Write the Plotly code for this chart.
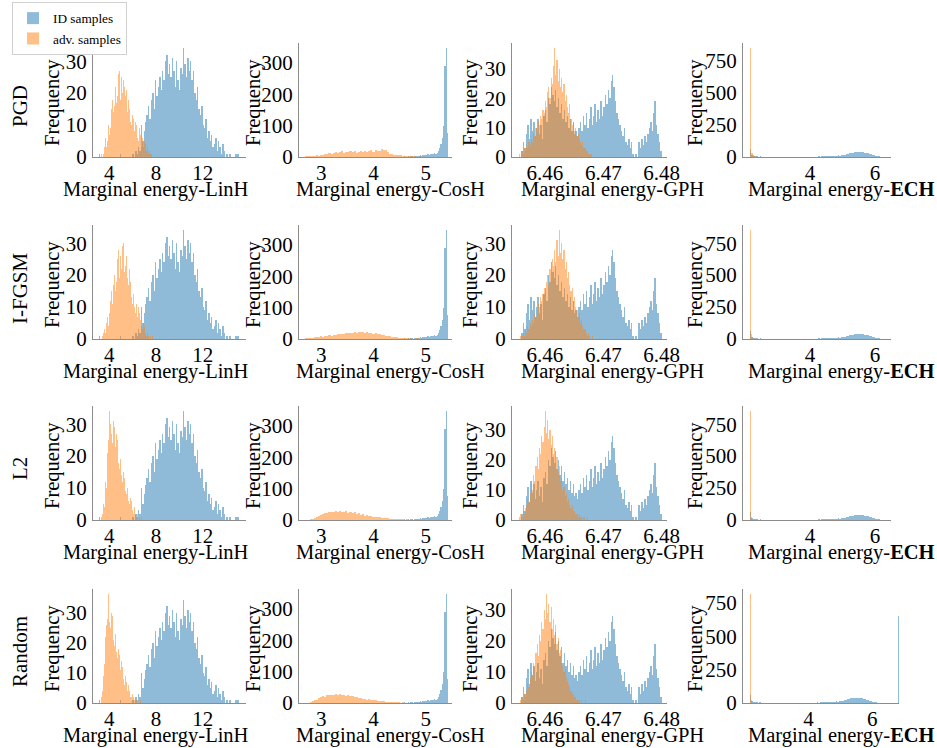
import plotly.graph_objects as go

W, H = 937, 748
FONT = "Liberation Serif, Times New Roman, serif"

attacks = ["PGD", "I-FGSM", "L2", "Random"]
metrics = ["LinH", "CosH", "GPH", "ECH"]

# ---------------- ID samples (identical in every attack row): start, bin width, counts
linh_id_start, linh_id_width = 3.1, 0.12
linh_id_counts = [1, 0, 0, 0, 0, 0, 0, 0, 0, 0,
                  0, 0, 0, 0, 0, 1, 0, 0, 0, 0,
                  0, 0, 0, 0, 1, 0, 2, 1, 3, 2,
                  10, 5, 8, 11, 13, 16, 12, 18, 20, 15,
                  24, 19, 22, 25, 21, 27, 24, 30, 32, 26,
                  29, 25, 31, 27, 22, 30, 24, 21, 28, 26,
                  34, 29, 25, 31, 27, 30, 24, 27, 20, 18,
                  22, 15, 13, 16, 10, 9, 12, 6, 8, 5,
                  7, 3, 4, 6, 2, 5, 3, 1, 4, 2,
                  0, 1, 0, 1, 0, 0, 0, 1, 1, 1]

cosh_id_start, cosh_id_width = 4.43, 0.025
cosh_id_counts = [0, 1, 0, 1, 1, 0, 2, 1, 1, 2, 1, 3, 2, 1, 3, 2,
                  4, 3, 5, 4, 6, 5, 7, 6,
                  8, 7, 9, 10, 8, 12, 11, 14,
                  20, 28, 40, 60,
                  100, 290, 346, 75]

gph_id_start, gph_id_width = 6.456, 0.00025
gph_id_counts = [2, 5, 3, 8, 11, 6, 13, 9, 12, 7, 10, 13, 8, 11, 6, 14,
                 16, 12, 20, 18, 24, 21, 19, 23, 17, 20, 15, 18, 13, 16, 12, 14,
                 10, 13, 9, 12, 8, 9, 7, 10, 12, 9, 14, 11, 15, 10, 13, 17,
                 11, 14, 18, 12, 16, 13, 19, 14, 17, 21, 18, 23, 20, 26, 28, 24,
                 19, 15, 13, 11, 9, 7, 10, 5, 4, 6, 3, 5, 1, 0, 1, 0,
                 5, 3, 6, 4, 7, 5, 8, 10, 12, 9, 15, 19, 11, 8, 5, 2]

ech_id_start, ech_id_width = 2.15, 0.05
ech_id_counts = [60, 15, 8, 5, 4, 3, 4,
                 3, 2, 3, 2, 2, 3, 2, 2, 1, 2,
                 2, 1, 2, 1, 2, 1, 1, 2, 1, 1,
                 1, 2, 1, 1, 2, 1, 2, 2, 1, 2,
                 2, 3, 2, 3, 3, 4, 3, 4, 5, 4,
                 6, 5, 7, 8, 7, 9, 10, 12, 11, 14,
                 16, 18, 22, 25, 28, 31, 34, 36, 38, 40,
                 41, 38, 39, 35, 33, 28, 25, 20, 16, 12,
                 9, 6, 4, 3, 2, 1, 1]

# ---------------- adversarial samples, one histogram per attack
linh_adv_starts = [3.3, 3.4, 3.3, 3.3]
linh_adv_width = 0.06
linh_adv_pgd = [1, 0, 2, 1, 3, 4, 6, 3, 8, 5, 10, 7, 13, 9, 15, 12, 18, 14, 20, 16,
                22, 17, 24, 19, 26, 21, 27, 18, 25, 23, 20, 24, 17, 22, 19, 16, 21, 14, 18, 13,
                15, 11, 16, 10, 13, 9, 12, 8, 11, 7, 10, 6, 8, 5, 9, 4, 7, 3, 6, 4,
                3, 5, 2, 4, 2, 1, 3, 1, 2, 0, 1, 1]
linh_adv_ifgsm = [1, 2, 1, 3, 2, 5, 3, 7, 4, 9, 8, 12, 10, 15, 11, 17, 13, 20, 15, 22,
                  18, 25, 21, 28, 19, 26, 32, 22, 29, 24, 30, 21, 27, 23, 26, 19, 24, 17, 22, 15,
                  18, 13, 16, 11, 14, 10, 13, 8, 11, 9, 7, 10, 5, 8, 6, 4, 7, 3, 5, 3,
                  4, 2, 3, 1, 2, 1, 2, 0, 1, 1, 0, 1]
linh_adv_l2 = [1, 2, 3, 5, 4, 8, 12, 10, 17, 21, 25, 34, 22, 30, 27, 34, 24, 31, 26, 29,
               23, 27, 20, 25, 18, 21, 16, 19, 14, 17, 12, 15, 10, 13, 9, 11, 8, 10, 6, 9,
               5, 7, 4, 6, 3, 5, 2, 4, 2, 3, 1, 2, 1, 0, 1, 1, 0, 1, 0, 0]
linh_adv_random = [2, 4, 6, 9, 13, 17, 22, 26, 32, 28, 36, 27, 33, 25, 30, 24, 29, 21, 26, 19,
                   23, 17, 20, 15, 18, 13, 16, 11, 14, 9, 12, 8, 10, 6, 9, 5, 7, 4, 6, 3,
                   4, 2, 3, 2, 3, 1, 2, 1, 1, 0, 1, 0, 1, 0, 0, 0, 1, 0, 0, 0]

cosh_adv_starts = [2.70, 2.70, 2.78, 2.78]
cosh_adv_width = 0.04
cosh_adv_pgd = [2, 3, 2, 4, 3, 5, 4, 6, 5, 8, 9, 12, 10, 14, 16, 13, 15, 18, 14, 17,
                16, 19, 15, 18, 14, 17, 20, 16, 19, 17, 18, 21, 17, 22, 19, 20, 24, 21, 23, 15,
                10, 8, 7, 6, 5, 5, 4, 3, 4, 3, 2, 3, 2, 1, 2, 1, 1]
cosh_adv_ifgsm = [2, 3, 4, 3, 5, 6, 5, 8, 7, 9, 10, 12, 11, 14, 13, 16, 15, 17, 16, 19,
                  18, 20, 19, 22, 20, 23, 21, 22, 20, 21, 19, 20, 17, 18, 15, 16, 13, 12, 10, 9,
                  8, 6, 5, 5, 4, 3, 3, 2, 3, 2, 2, 1, 1, 2, 1, 1, 0]
cosh_adv_l2 = [2, 4, 6, 9, 13, 16, 19, 22, 21, 25, 27, 24, 29, 26, 30, 27, 25, 28, 23, 26,
               22, 24, 19, 21, 17, 18, 14, 15, 12, 13, 10, 11, 8, 9, 6, 7, 5, 6, 4, 4,
               3, 3, 2, 2, 2, 1, 2, 1, 1, 1]
cosh_adv_random = [3, 5, 8, 11, 15, 18, 22, 20, 25, 24, 27, 25, 29, 26, 28, 24, 26, 23, 25, 21,
                   22, 18, 20, 16, 17, 13, 14, 11, 12, 10, 9, 8, 7, 6, 6, 5, 4, 4, 3, 3,
                   3, 2, 2, 1, 2, 1, 1, 1, 0, 1]

gph_adv_start, gph_adv_width = 6.4556, 0.0002
gph_adv_pgd = [1, 0, 2, 1, 3, 2, 4, 3, 5, 4, 6, 5, 8, 7, 10, 9, 12, 11, 14, 13,
               16, 15, 19, 17, 22, 24, 20, 27, 25, 31, 37, 28, 33, 26, 30, 24, 27, 22, 25, 19,
               21, 17, 15, 18, 13, 11, 12, 9, 10, 7, 8, 6, 5, 4, 5, 3, 3, 2, 2, 1,
               1, 1, 0]
gph_adv_ifgsm = [0, 1, 1, 2, 1, 3, 2, 4, 3, 5, 4, 6, 5, 8, 7, 9, 11, 10, 13, 12,
                 14, 16, 15, 18, 20, 17, 22, 21, 25, 23, 28, 24, 31, 26, 34, 27, 30, 25, 28, 22,
                 24, 19, 21, 17, 15, 16, 12, 13, 10, 9, 7, 8, 5, 6, 4, 3, 3, 2, 1, 2,
                 1, 0, 1]
gph_adv_l2 = [1, 2, 1, 3, 2, 4, 5, 7, 6, 9, 12, 10, 15, 13, 18, 21, 17, 24, 22, 28,
              26, 31, 36, 29, 33, 27, 30, 25, 28, 22, 24, 19, 21, 16, 18, 13, 14, 10, 11, 8,
              9, 6, 7, 5, 4, 5, 3, 3, 2, 2, 1, 2, 1, 1, 0, 1, 0, 0, 1, 0,
              0, 0, 0]
gph_adv_random = [0, 1, 2, 1, 3, 2, 4, 6, 5, 8, 10, 9, 13, 12, 16, 19, 15, 22, 20, 26,
                  24, 30, 27, 35, 29, 32, 26, 31, 24, 27, 22, 25, 19, 21, 16, 17, 13, 12, 10, 11,
                  8, 7, 6, 5, 4, 3, 3, 2, 2, 1, 1, 1, 0, 1, 0, 0, 1, 0, 0, 0,
                  0, 0, 0]

ech_adv_starts = [2.16, 2.17, 2.17, 2.17]
ech_adv_widths = [0.04, 0.025, 0.02, 0.02]
ech_adv_pgd = [848, 30, 12, 6, 3, 2, 1]
ech_adv_ifgsm = [850, 40, 12, 5, 2, 1]
ech_adv_l2 = [850, 20, 6, 2]
ech_adv_random = [815, 20, 6, 2]
# isolated high-energy bin seen only in the Random row
ech_random_outlier_x = [6.83]
ech_random_outlier_counts = [650]

# ---------------- axis ticks
x_ticks = {"LinH": [4, 8, 12], "CosH": [3, 4, 5], "GPH": [6.46, 6.47, 6.48], "ECH": [4, 6]}
x_ticktext = {"LinH": ["4", "8", "12"], "CosH": ["3", "4", "5"],
              "GPH": ["6.46", "6.47", "6.48"], "ECH": ["4", "6"]}
y_ticks = {"LinH": [0, 10, 20, 30], "CosH": [0, 100, 200, 300],
           "GPH": [0, 10, 20, 30], "ECH": [0, 250, 500, 750]}

# ---------------- build the table of series
id_series = {
    "LinH": (linh_id_start, linh_id_width, linh_id_counts),
    "CosH": (cosh_id_start, cosh_id_width, cosh_id_counts),
    "GPH": (gph_id_start, gph_id_width, gph_id_counts),
    "ECH": (ech_id_start, ech_id_width, ech_id_counts),
}
adv_counts = {
    "LinH": [linh_adv_pgd, linh_adv_ifgsm, linh_adv_l2, linh_adv_random],
    "CosH": [cosh_adv_pgd, cosh_adv_ifgsm, cosh_adv_l2, cosh_adv_random],
    "GPH": [gph_adv_pgd, gph_adv_ifgsm, gph_adv_l2, gph_adv_random],
    "ECH": [ech_adv_pgd, ech_adv_ifgsm, ech_adv_l2, ech_adv_random],
}
adv_start = {"LinH": linh_adv_starts, "CosH": cosh_adv_starts,
             "GPH": [gph_adv_start] * 4, "ECH": ech_adv_starts}
adv_width = {"LinH": [linh_adv_width] * 4, "CosH": [cosh_adv_width] * 4,
             "GPH": [gph_adv_width] * 4, "ECH": ech_adv_widths}

# ---------------- layout geometry (pixels)
col_x0 = [93, 299, 512, 743]
col_x1 = [246, 452, 667, 891]
row_top = [43, 225, 406, 589]
row_bot = [157, 339, 520, 703]
x_ranges = {"LinH": [2.6, 15.7], "CosH": [2.577, 5.50], "GPH": [6.4544, 6.4809], "ECH": [1.94, 6.49]}

BLUE = "rgba(31,119,180,0.5)"
ORANGE = "rgba(255,127,14,0.5)"
AXIS_COLOR = "#8c8c8c"


def centers(start, width, n):
    return [start + width * (i + 0.5) for i in range(n)]


fig = go.Figure()
layout = {}
annotations = []

for r, attack in enumerate(attacks):
    for c, m in enumerate(metrics):
        k = r * 4 + c + 1
        xa = "x" if k == 1 else f"x{k}"
        ya = "y" if k == 1 else f"y{k}"
        s, w, cnt = id_series[m]
        fig.add_trace(go.Bar(x=centers(s, w, len(cnt)), y=cnt, width=w,
                             marker=dict(color=BLUE, line=dict(width=0)),
                             name="ID samples", showlegend=(k == 1),
                             xaxis=xa, yaxis=ya))
        ac = adv_counts[m][r]
        aw = adv_width[m][r]
        fig.add_trace(go.Bar(x=centers(adv_start[m][r], aw, len(ac)), y=ac, width=aw,
                             marker=dict(color=ORANGE, line=dict(width=0)),
                             name="adv. samples", showlegend=(k == 1),
                             xaxis=xa, yaxis=ya))
        ymax = max(cnt + ac)
        x1 = col_x1[c]
        xr = list(x_ranges[m])
        if m == "ECH" and attack == "Random":
            fig.add_trace(go.Bar(x=ech_random_outlier_x, y=ech_random_outlier_counts, width=0.012,
                                 marker=dict(color=BLUE, line=dict(width=0)),
                                 showlegend=False, xaxis=xa, yaxis=ya))
            x1 = 899
            xr = [1.94, 6.84]
        layout["xaxis" if k == 1 else f"xaxis{k}"] = dict(
            domain=[col_x0[c] / W, x1 / W], range=xr, anchor=ya, automargin=False,
            tickvals=x_ticks[m], ticktext=x_ticktext[m], ticks="", ticklabelstandoff=-3,
            showline=True, linecolor=AXIS_COLOR, linewidth=1,
            showgrid=False, zeroline=False,
            tickfont=dict(family=FONT, size=21, color="black"))
        layout["yaxis" if k == 1 else f"yaxis{k}"] = dict(
            domain=[1 - row_bot[r] / H, 1 - row_top[r] / H], range=[0, ymax * 1.05], anchor=xa,
            automargin=False,
            tickvals=y_ticks[m], ticks="", ticklabelstandoff=1,
            showline=True, linecolor=AXIS_COLOR, linewidth=1,
            showgrid=False, zeroline=False,
            tickfont=dict(family=FONT, size=21, color="black"))

# text labels
xlabel_cx = [156, 390, 612, 841]
freq_cx = [52, 253, 470, 695]
for r, attack in enumerate(attacks):
    mid = (row_top[r] + row_bot[r]) / 2
    annotations.append(dict(text=attack, x=20 / W, y=1 - (mid + 6) / H, xref="paper", yref="paper",
                            textangle=-90, showarrow=False, xanchor="center", yanchor="middle",
                            font=dict(family=FONT, size=21, color="black")))
    for c, m in enumerate(metrics):
        label = "Marginal energy-<b>ECH</b>" if m == "ECH" else f"Marginal energy-{m}"
        annotations.append(dict(text=label, x=xlabel_cx[c] / W, y=1 - (row_bot[r] + 32) / H,
                                xref="paper", yref="paper", showarrow=False,
                                xanchor="center", yanchor="middle",
                                font=dict(family=FONT, size=20.5, color="black")))
        annotations.append(dict(text="Frequency", x=freq_cx[c] / W, y=1 - (mid + 3) / H,
                                xref="paper", yref="paper", textangle=-90, showarrow=False,
                                xanchor="center", yanchor="middle",
                                font=dict(family=FONT, size=20.5, color="black")))

fig.update_layout(
    width=W, height=H, margin=dict(l=0, r=0, t=0, b=0, pad=0, autoexpand=False),
    paper_bgcolor="white", plot_bgcolor="white",
    barmode="overlay", bargap=0,
    font=dict(family=FONT, color="black"),
    legend=dict(x=12 / W, y=1 - 2 / H, xanchor="left", yanchor="top",
                bgcolor="white", bordercolor="#d0d0d0", borderwidth=1,
                font=dict(family=FONT, size=13.3, color="black"),
                tracegroupgap=0, itemwidth=30),
    annotations=annotations,
    **layout,
)

fig.write_html("out.html", config={"displayModeBar": False},
               post_script="document.body.style.margin='0';document.body.style.overflow='hidden';")
